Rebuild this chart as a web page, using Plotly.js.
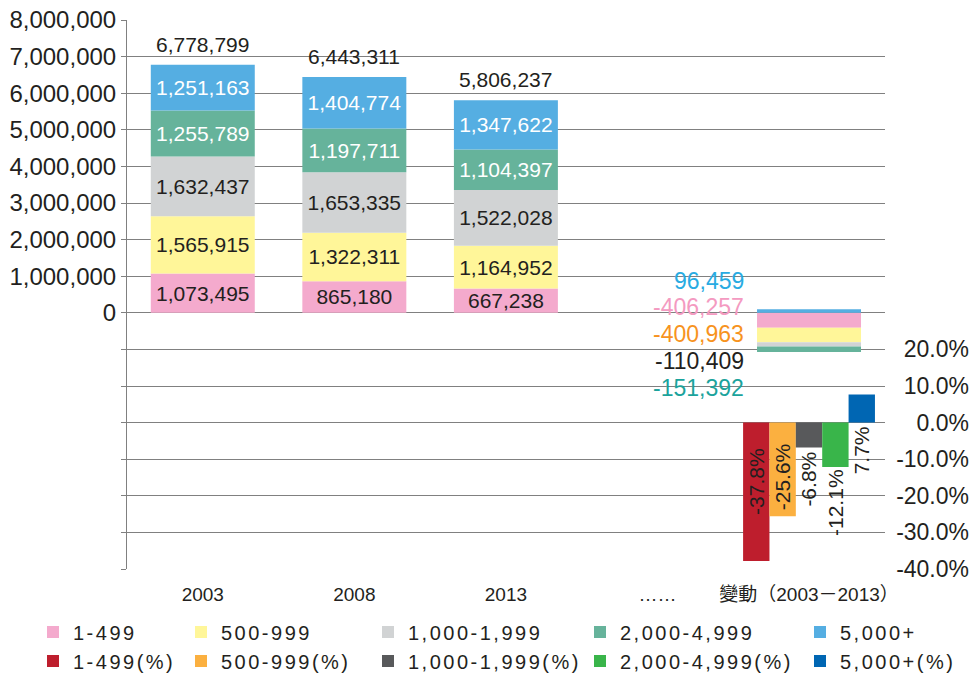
<!DOCTYPE html>
<html><head><meta charset="utf-8">
<script src="https://cdn.plot.ly/plotly-3.0.1.min.js"></script>
<style>
html,body{margin:0;padding:0;background:#fff;}
#chart{width:969px;height:674px;}
.legendtext, g[class^="legend"] text {letter-spacing:2.5px;}
g[class^="legend"] g, g[class^="legend"] {clip-path:none !important;}
</style></head><body><div id="chart"></div>
<script>
// ---- data ----
const categories = ['2003', '2008', '2013', '……', '變動（2003－2013）'];
const countNames = ['1-499', '500-999', '1,000-1,999', '2,000-4,999', '5,000+'];
const count1_499     = [1073495, 865180, 667238, null, -406257];
const count500_999   = [1565915, 1322311, 1164952, null, -400963];
const count1000_1999 = [1632437, 1653335, 1522028, null, -110409];
const count2000_4999 = [1255789, 1197711, 1104397, null, -151392];
const count5000plus  = [1251163, 1404774, 1347622, null, 96459];
const pctNames  = ['1-499(%)', '500-999(%)', '1,000-1,999(%)', '2,000-4,999(%)', '5,000+(%)'];
const pctValues = [-37.8, -25.6, -6.8, -12.1, 7.7];
const leftTickVals = [-7000000, -6000000, -5000000, -4000000, -3000000, -2000000, -1000000, 0,
                      1000000, 2000000, 3000000, 4000000, 5000000, 6000000, 7000000, 8000000];
const rightTickVals = [-40, -30, -20, -10, 0, 10, 20];

// ---- styles ----
const FONT = 'Liberation Sans, Arial, Noto Sans CJK TC, sans-serif';
const TXT = '#231F20';
const countColors = ['#F4AACD', '#FFF699', '#D1D3D4', '#66B39B', '#55AEE2'];
const countTextColors = [TXT, TXT, TXT, '#FFFFFF', '#FFFFFF'];
const changeLabelColors = ['#F49AC1', '#F7931E', TXT, '#1BA39C', '#29ABE2'];
const pctColors = ['#BE1E2D', '#FBB040', '#58595B', '#39B54A', '#0066B3'];

const countSeries = [count1_499, count500_999, count1000_1999, count2000_4999, count5000plus];
const fmt = v => v.toLocaleString('en-US');
const changeIdx = categories.length - 1;
const legId = n => n === 1 ? 'legend' : 'legend' + n;

const traces = [];
countSeries.forEach((vals, k) => {
  traces.push({
    type: 'bar', name: countNames[k], x: categories, y: vals,
    marker: {color: countColors[k]},
    text: vals.map((v, i) => (v === null || i === changeIdx) ? '' : fmt(v)),
    textposition: 'inside', insidetextanchor: 'middle', textangle: 0,
    constraintext: 'none',
    textfont: {family: FONT, size: 21, color: countTextColors[k]},
    hoverinfo: 'skip',
    legend: legId(k + 1)
  });
});
const pW = 0.174;
pctValues.forEach((v, k) => {
  traces.push({
    type: 'bar', name: pctNames[k], x: [categories[changeIdx]], y: [v],
    yaxis: 'y2', base: 0, width: pW, offset: -0.435 + k * pW,
    marker: {color: pctColors[k]}, hoverinfo: 'skip',
    legend: legId(k + 6)
  });
});

// annotations use category indices (numeric) on the category axis
const annotations = [];
for (let i = 0; i < 3; i++) {
  const tot = countSeries.reduce((s, a) => s + a[i], 0);
  annotations.push({x: i, y: tot, xref: 'x', yref: 'y', text: fmt(tot),
    showarrow: false, xanchor: 'center', yanchor: 'bottom', yshift: 7,
    font: {size: 21, color: TXT, family: FONT}});
}
const changeOrder = [4, 0, 1, 2, 3];
const changeShift = [32, 6, -21, -48, -75];
changeOrder.forEach((k, j) => {
  const v = countSeries[k][changeIdx];
  annotations.push({x: changeIdx, y: 0, xref: 'x', yref: 'y',
    text: fmt(v), showarrow: false, xanchor: 'right', yanchor: 'middle',
    xshift: -63, yshift: changeShift[j],
    font: {size: 23, color: changeLabelColors[k], family: FONT}});
});
const pctShift = [-59, -54, -57, -80, -28];
pctValues.forEach((v, k) => {
  annotations.push({x: changeIdx - 0.435 + k * pW + pW / 2, y: 0, xref: 'x', yref: 'y2',
    text: v.toFixed(1) + '%', showarrow: false, textangle: -90,
    xanchor: 'center', yanchor: 'middle', yshift: pctShift[k],
    font: {size: 21, color: TXT, family: FONT}});
});

const W = 969, H = 674, L = 127, PW = W - L, PH = H - 20 - 105;
const legendCols = [48, 196, 383, 595, 815];
const legendRows = [632, 661];
const mkLegend = (px, py) => ({
  x: (px - L - 15) / PW, xanchor: 'left', y: (569 - py) / PH, yanchor: 'middle',
  orientation: 'v', bgcolor: 'rgba(0,0,0,0)', borderwidth: 0,
  font: {size: 20, color: TXT, family: FONT}, tracegroupgap: 0
});

const layout = {
  width: W, height: H,
  margin: {l: L, r: 0, t: 20, b: 105, autoexpand: false},
  paper_bgcolor: '#fff', plot_bgcolor: '#fff',
  font: {family: FONT, color: TXT},
  barmode: 'relative', bargap: 0.314,
  showlegend: true,
  xaxis: {domain: [0, 0.9], type: 'category', categoryorder: 'array', categoryarray: categories,
    range: [-0.5, 4.5], autorange: false,
    tickfont: {size: 19, color: TXT}, showline: false, ticks: '', showgrid: false, zeroline: false,
    ticklabelstandoff: 12},
  yaxis: {range: [-7000000, 8000000], autorange: false, tickmode: 'array', tickvals: leftTickVals,
    ticktext: leftTickVals.map(v => v < 0 ? '' : fmt(v)),
    showgrid: true, gridcolor: '#808080', gridwidth: 1, showline: true, linecolor: '#808080',
    linewidth: 1, ticks: 'outside', ticklen: 5, tickcolor: '#808080', zeroline: false,
    tickfont: {size: 24, color: TXT}, ticklabelstandoff: 0},
  yaxis2: {overlaying: 'y', anchor: 'free', position: 1, side: 'left',
    range: [-40, 110], autorange: false, tickmode: 'array', tickvals: rightTickVals,
    ticktext: rightTickVals.map(v => v.toFixed(1) + '%'),
    showgrid: false, zeroline: false, showline: false, ticks: '',
    tickfont: {size: 23, color: TXT}},
  annotations: annotations
};
for (let r = 0; r < 2; r++) {
  for (let c = 0; c < 5; c++) {
    layout[legId(r * 5 + c + 1)] = mkLegend(legendCols[c], legendRows[r]);
  }
}

Plotly.newPlot('chart', traces, layout, {displayModeBar: false, staticPlot: true});
</script></body></html>
